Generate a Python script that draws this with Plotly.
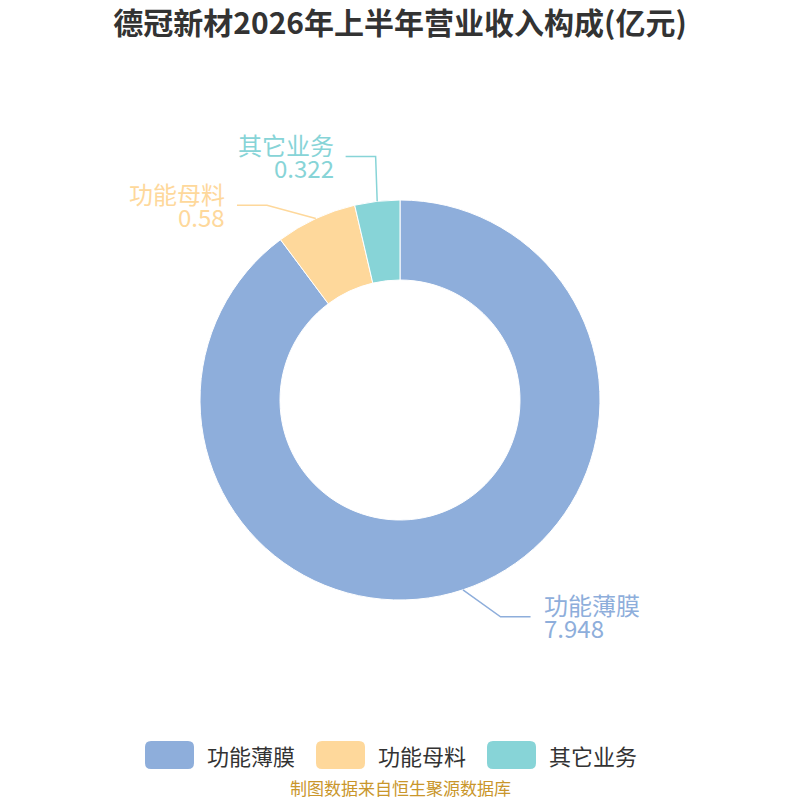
import math
import plotly.graph_objects as go

# data
categories = ['功能薄膜', '功能母料', '其它业务']
values = [7.948, 0.58, 0.322]
value_labels = ['7.948', '0.58', '0.322']
colors = ['#8eaedb', '#fed89b', '#87d4d7']

FONT = 'Noto Sans CJK SC'
W = H = 800
cx, cy, R = 400, 400, 200  # pie centre / radius in px (from domain below)


def px(x):
    return x / W


def py(y):
    return 1 - y / H


fig = go.Figure()
fig.add_trace(go.Pie(
    labels=categories, values=values, sort=False, direction='clockwise',
    rotation=0, hole=0.6, textinfo='none', hoverinfo='label+value',
    marker=dict(colors=colors, line=dict(color='white', width=1)),
    domain=dict(x=[0.25, 0.75], y=[0.25, 0.75]), showlegend=False,
))

shapes = []
annotations = []

# leader lines + outside labels, positioned from slice mid-angles
total = sum(values)
nudge = [(25, -11), (-32, 23), (3, -5)]  # label de-overlap offsets
cum = 0
for i, v in enumerate(values):
    mid = (cum + v / 2) / total * 2 * math.pi
    cum += v
    sx, sy = cx + R * math.sin(mid), cy - R * math.cos(mid)
    ex = cx + 240 * math.sin(mid) + nudge[i][0]
    ey = cy - 240 * math.cos(mid) + nudge[i][1]
    right = math.sin(mid) > 0
    hx = ex + (30 if right else -30)
    shapes.append(dict(
        type='path', xref='paper', yref='paper',
        path=f'M{px(sx)},{py(sy)} L{px(ex)},{py(ey)} L{px(hx)},{py(ey)}',
        line=dict(color=colors[i], width=1.5),
    ))
    tx = hx + (11 if right else -10)
    anchor = 'left' if right else 'right'
    annotations.append(dict(
        x=px(tx), y=py(ey - 12), xref='paper', yref='paper', text=categories[i],
        showarrow=False, xanchor=anchor, yanchor='middle',
        font=dict(family=FONT, size=24, color=colors[i]),
    ))
    annotations.append(dict(
        x=px(tx), y=py(ey + 11), xref='paper', yref='paper', text=value_labels[i],
        showarrow=False, xanchor=anchor, yanchor='middle',
        font=dict(family=FONT, size=24, color=colors[i]),
    ))

# custom legend with big rounded swatches
leg_x = [145, 316, 487]
for i, name in enumerate(categories):
    x0, x1, y0, y1, r = leg_x[i], leg_x[i] + 49, 741, 769, 6
    path = (f'M{px(x0 + r)},{py(y0)} L{px(x1 - r)},{py(y0)} '
            f'Q{px(x1)},{py(y0)} {px(x1)},{py(y0 + r)} L{px(x1)},{py(y1 - r)} '
            f'Q{px(x1)},{py(y1)} {px(x1 - r)},{py(y1)} L{px(x0 + r)},{py(y1)} '
            f'Q{px(x0)},{py(y1)} {px(x0)},{py(y1 - r)} L{px(x0)},{py(y0 + r)} '
            f'Q{px(x0)},{py(y0)} {px(x0 + r)},{py(y0)} Z')
    shapes.append(dict(type='path', xref='paper', yref='paper', path=path,
                       fillcolor=colors[i], line=dict(width=0)))
    annotations.append(dict(
        x=px(x1 + 11), y=py(755), xref='paper', yref='paper', text=name,
        showarrow=False, xanchor='left', yanchor='middle',
        font=dict(family=FONT, size=22, color='#333333'),
    ))

annotations.append(dict(
    x=0.5, y=py(787), xref='paper', yref='paper', text='制图数据来自恒生聚源数据库',
    showarrow=False, xanchor='center', yanchor='middle',
    font=dict(family=FONT, size=17, color='#c9962b'),
))

fig.update_layout(
    width=W, height=H,
    margin=dict(l=0, r=0, t=0, b=0),
    paper_bgcolor='white', plot_bgcolor='white',
    title=dict(text='<b>德冠新材2026年上半年营业收入构成(亿元)</b>', x=0.5, y=py(23),
               xanchor='center', yanchor='middle',
               font=dict(family=FONT, size=30, color='#333333')),
    shapes=shapes, annotations=annotations,
)

fig.write_html('out.html', config={'displayModeBar': False},
               post_script="document.body.style.margin='0';")
